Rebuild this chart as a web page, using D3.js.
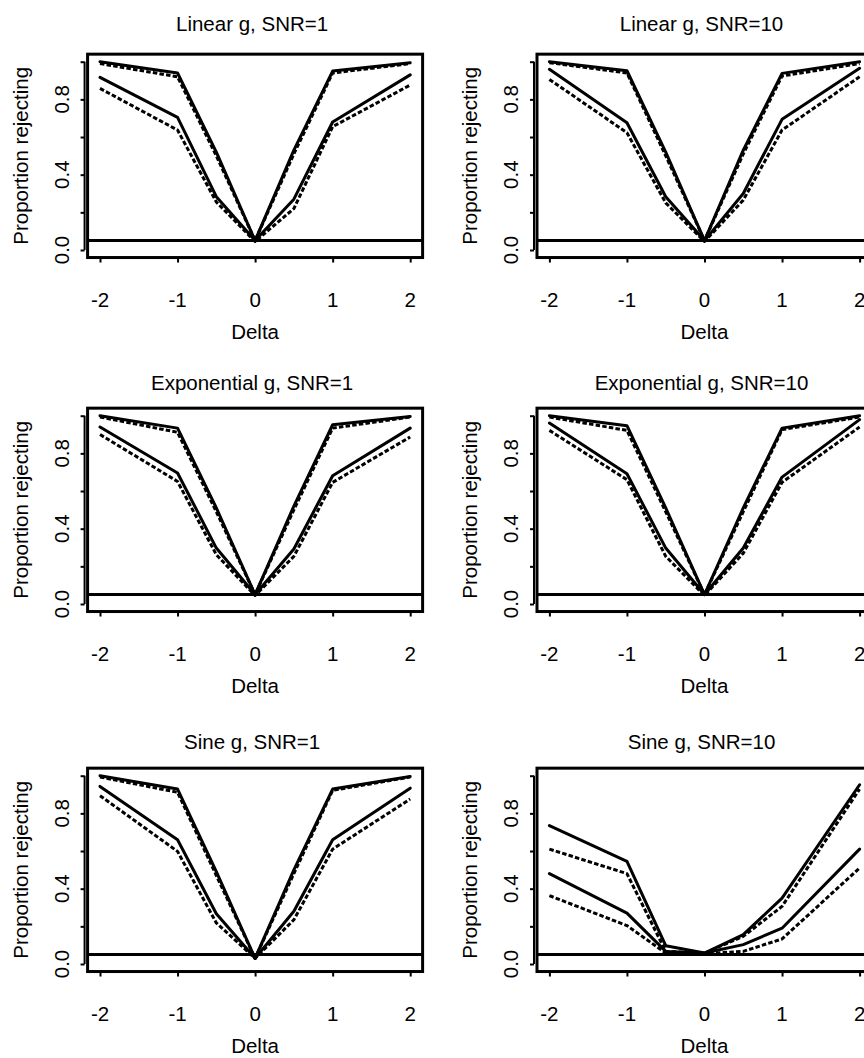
<!DOCTYPE html>
<html>
<head>
<meta charset="utf-8">
<script src="https://cdn.jsdelivr.net/npm/d3@7"></script>
<style>
  html, body { margin: 0; padding: 0; background: #fff; overflow: hidden; }
  text { font-family: "Liberation Sans", Arial, sans-serif; fill: #000; }
</style>
</head>
<body>
<svg id="chart" width="864" height="1058"></svg>
<script>
// ---------------- data ----------------
const deltas = [-2, -1, -0.5, 0, 0.5, 1, 2];
const xTicks = [-2, -1, 0, 1, 2];
const yTicks = [0, 0.2, 0.4, 0.6, 0.8, 1.0];
const yTickLabels = ["0.0", "", "0.4", "", "0.8", ""];
const titles = ["Linear g, SNR=1", "Linear g, SNR=10",
                "Exponential g, SNR=1", "Exponential g, SNR=10",
                "Sine g, SNR=1", "Sine g, SNR=10"];
const nominalLevel = 0.05;
const xLabel = "Delta";
const yLabel = "Proportion rejecting";

// Linear g, SNR=1
const lin1_solidHi = [1.00, 0.94, 0.52, 0.05, 0.53, 0.95, 0.995];
const lin1_dashHi  = [0.99, 0.92, 0.50, 0.05, 0.51, 0.94, 0.99];
const lin1_solidLo = [0.917, 0.704, 0.283, 0.05, 0.27, 0.68, 0.93];
const lin1_dashLo  = [0.858, 0.637, 0.255, 0.045, 0.22, 0.655, 0.876];
// Linear g, SNR=10
const lin10_solidHi = [1.00, 0.952, 0.52, 0.05, 0.53, 0.938, 1.00];
const lin10_dashHi  = [0.995, 0.94, 0.50, 0.05, 0.51, 0.924, 0.99];
const lin10_solidLo = [0.96, 0.676, 0.283, 0.05, 0.30, 0.694, 0.965];
const lin10_dashLo  = [0.906, 0.623, 0.25, 0.045, 0.265, 0.637, 0.92];
// Exponential g, SNR=1
const exp1_solidHi = [1.00, 0.934, 0.51, 0.05, 0.52, 0.952, 0.996];
const exp1_dashHi  = [0.993, 0.912, 0.49, 0.05, 0.50, 0.934, 0.993];
const exp1_solidLo = [0.94, 0.696, 0.297, 0.05, 0.292, 0.681, 0.934];
const exp1_dashLo  = [0.90, 0.651, 0.262, 0.045, 0.253, 0.646, 0.887];
// Exponential g, SNR=10
const exp10_solidHi = [1.00, 0.947, 0.51, 0.05, 0.51, 0.934, 1.00];
const exp10_dashHi  = [0.993, 0.922, 0.49, 0.05, 0.49, 0.926, 0.993];
const exp10_solidLo = [0.961, 0.692, 0.297, 0.05, 0.297, 0.674, 0.979];
const exp10_dashLo  = [0.922, 0.66, 0.253, 0.045, 0.27, 0.646, 0.94];
// Sine g, SNR=1
const sin1_solidHi = [1.00, 0.929, 0.49, 0.03, 0.50, 0.929, 0.996];
const sin1_dashHi  = [0.993, 0.912, 0.47, 0.03, 0.48, 0.922, 0.993];
const sin1_solidLo = [0.943, 0.66, 0.267, 0.03, 0.28, 0.66, 0.934];
const sin1_dashLo  = [0.894, 0.598, 0.218, 0.03, 0.235, 0.61, 0.876];
// Sine g, SNR=10
const sin10_solidHi = [0.735, 0.545, 0.097, 0.058, 0.156, 0.35, 0.952];
const sin10_dashHi  = [0.61, 0.48, 0.067, 0.058, 0.147, 0.306, 0.929];
const sin10_solidLo = [0.48, 0.27, 0.067, 0.058, 0.103, 0.19, 0.61];
const sin10_dashLo  = [0.363, 0.204, 0.058, 0.055, 0.067, 0.133, 0.51];

const panelSeries = [
  [lin1_solidHi, lin1_dashHi, lin1_solidLo, lin1_dashLo],
  [lin10_solidHi, lin10_dashHi, lin10_solidLo, lin10_dashLo],
  [exp1_solidHi, exp1_dashHi, exp1_solidLo, exp1_dashLo],
  [exp10_solidHi, exp10_dashHi, exp10_solidLo, exp10_dashLo],
  [sin1_solidHi, sin1_dashHi, sin1_solidLo, sin1_dashLo],
  [sin10_solidHi, sin10_dashHi, sin10_solidLo, sin10_dashLo]
];
const seriesDashed = [false, true, false, true];

// ---------------- layout ----------------
const colXm2 = [100, 549.4];      // pixel of Delta=-2 per column
const pxPerX = 77.55;
const rowY0 = [250, 604, 964];     // pixel of value 0 per row
const pxPerY = 188.3;
const titleBase = [30.7, 390, 749.3];
const FS = 20.5;

const svg = d3.select("#chart");

panelSeries.forEach((series, i) => {
  const col = i % 2, row = Math.floor(i / 2);
  const x = d3.scaleLinear().domain([-2, 2])
    .range([colXm2[col], colXm2[col] + 4 * pxPerX]);
  const y = d3.scaleLinear().domain([0, 1])
    .range([rowY0[row], rowY0[row] - pxPerY]);
  const xl = x(-2.16), xr = x(2.16), yt = y(1.04), yb = y(-0.04);
  const g = svg.append("g");

  // data lines
  const line = d3.line().x((d, k) => x(deltas[k])).y(d => y(d));
  series.forEach((vals, s) => {
    g.append("path")
      .attr("d", line(vals))
      .attr("fill", "none")
      .attr("stroke", "#000")
      .attr("stroke-width", 3)
      .attr("stroke-linejoin", "round")
      .attr("stroke-linecap", seriesDashed[s] ? "butt" : "round")
      .attr("stroke-dasharray", seriesDashed[s] ? "4.5,2.2" : null);
  });

  // nominal level line
  g.append("line")
    .attr("x1", xl).attr("x2", xr)
    .attr("y1", y(nominalLevel)).attr("y2", y(nominalLevel))
    .attr("stroke", "#000").attr("stroke-width", 3);

  // box
  g.append("rect")
    .attr("x", xl).attr("y", yt)
    .attr("width", xr - xl).attr("height", yb - yt)
    .attr("fill", "none").attr("stroke", "#000").attr("stroke-width", 3);

  // y axis (offset from box)
  const yAxis = d3.axisLeft(y).tickValues(yTicks)
    .tickSize(4).tickPadding(0).tickFormat((d, k) => "");
  const ya = g.append("g").attr("transform", `translate(${xl - 3},0)`).call(yAxis);
  ya.select(".domain").attr("stroke-width", 2)
    .attr("d", `M0,${y(0)}V${y(1)}`);
  ya.selectAll(".tick line").attr("stroke-width", 2);
  ya.selectAll("text").remove();

  yTicks.forEach((t, k) => {
    if (!yTickLabels[k]) return;
    g.append("text")
      .attr("transform", `translate(${xl - 19},${y(t)}) rotate(-90)`)
      .attr("text-anchor", "middle")
      .style("font-size", FS + "px")
      .text(yTickLabels[k]);
  });

  // x axis
  const xAxis = d3.axisBottom(x).tickValues(xTicks).tickSize(5).tickFormat("");
  const xa = g.append("g").attr("transform", `translate(0,${yb})`).call(xAxis);
  xa.select(".domain").remove();
  xa.selectAll(".tick line").attr("stroke-width", 2);
  xa.selectAll("text").remove();
  xTicks.forEach(t => {
    g.append("text")
      .attr("x", x(t)).attr("y", rowY0[row] + 57)
      .attr("text-anchor", "middle")
      .style("font-size", FS + "px")
      .text(d3.format("d")(t).replace("−", "-"));
  });

  // x label
  g.append("text")
    .attr("x", x(0)).attr("y", rowY0[row] + 89)
    .attr("text-anchor", "middle")
    .style("font-size", FS + "px")
    .text(xLabel);

  // y label
  g.append("text")
    .attr("transform", `translate(${xl - 59.5},${(yt + yb) / 2}) rotate(-90)`)
    .attr("text-anchor", "middle")
    .style("font-size", FS + "px")
    .text(yLabel);

  // title
  g.append("text")
    .attr("x", x(0) - 3).attr("y", titleBase[row])
    .attr("text-anchor", "middle")
    .style("font-size", FS + "px")
    .text(titles[i]);
});
</script>
</body>
</html>
